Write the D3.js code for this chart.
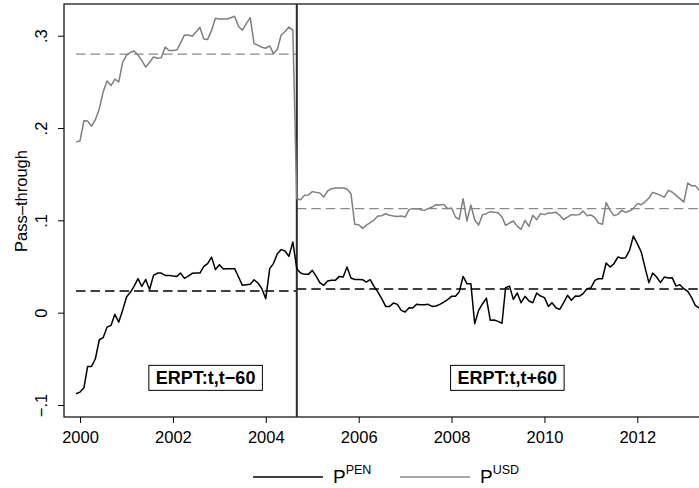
<!DOCTYPE html>
<html>
<head>
<meta charset="utf-8">
<script src="https://cdn.jsdelivr.net/npm/d3@7"></script>
<style>
  body { margin: 0; background: #fff; }
  svg { display: block; font-family: "Liberation Sans", Arial, Helvetica, sans-serif; }
</style>
</head>
<body>
<svg width="699" height="488"></svg>
<script>
var svg = d3.select('svg');

// monthly series, first month 1999m12, last 2013m5
var startMonth = new Date(1999, 11, 1);
var breakMonth = new Date(2004, 8, 1);

// P^PEN pass-through (57 months before the break, then 105 after)
var penSeries = [
  -0.0878, -0.086, -0.0813, -0.0582, -0.0582, -0.0499, -0.0293, -0.0271, -0.0156, -0.0138,
  -0.0018, -0.0102, 0.0025, 0.0169, 0.0223, 0.0285, 0.0368, 0.0285, 0.036, 0.0249,
  0.0404, 0.0429, 0.0429, 0.0404, 0.0404, 0.0397, 0.0393, 0.0429, 0.0372, 0.0397,
  0.0426, 0.0429, 0.0429, 0.0502, 0.0531, 0.0602, 0.0466, 0.052, 0.0473, 0.0477,
  0.0477, 0.0477, 0.0386, 0.0296, 0.0303, 0.0307, 0.0357, 0.0321, 0.026, 0.0152,
  0.0477, 0.0531, 0.0639, 0.0683, 0.0668, 0.061, 0.0765,
  // after the break
  0.0477, 0.043, 0.0415, 0.0415, 0.0458, 0.0393, 0.0325, 0.0296, 0.0342, 0.035,
  0.035, 0.0393, 0.0386, 0.0494, 0.0375, 0.036, 0.036, 0.0357, 0.0332, 0.0357,
  0.0285, 0.0223, 0.0152, 0.0068, 0.0068, 0.0104, 0.009, 0.0025, 0.0007, 0.0054,
  0.005, 0.009, 0.0086, 0.0086, 0.009, 0.0068, 0.0072, 0.009, 0.0115, 0.0141,
  0.0177, 0.0177, 0.0223, 0.0393, 0.0314, 0.0314, -0.012, 0.0025, 0.0097, 0.0158,
  -0.0083, -0.0079, -0.0094, -0.0115, 0.027, 0.0288, 0.0144, 0.0213, 0.0108, 0.0177,
  0.0126, 0.0108, 0.0213, 0.018, 0.0163, 0.0068, 0.0108, 0.0054, 0.0036, 0.0108,
  0.0188, 0.0134, 0.018, 0.0177, 0.0206, 0.026, 0.0267, 0.035, 0.0368, 0.0368,
  0.0538, 0.0494, 0.053, 0.0602, 0.059, 0.0595, 0.0675, 0.083, 0.0748, 0.0657,
  0.0494, 0.0325, 0.0429, 0.0386, 0.0325, 0.0386, 0.0375, 0.0379, 0.0288, 0.0303,
  0.026, 0.023, 0.0169, 0.0079, 0.005
];

// P^USD pass-through
var usdSeries = [
  0.185, 0.186, 0.208, 0.2075, 0.202, 0.209, 0.221, 0.239, 0.251, 0.246,
  0.253, 0.250, 0.271, 0.279, 0.282, 0.2835, 0.279, 0.273, 0.266, 0.271,
  0.277, 0.2755, 0.276, 0.2877, 0.284, 0.284, 0.2845, 0.292, 0.3007, 0.3007,
  0.2995, 0.304, 0.309, 0.2965, 0.296, 0.306, 0.319, 0.318, 0.318, 0.318,
  0.3195, 0.321, 0.310, 0.306, 0.313, 0.3195, 0.2914, 0.2897, 0.2875, 0.2864,
  0.289, 0.2806, 0.285, 0.3007, 0.3046, 0.3094, 0.306,
  // after the break
  0.1235, 0.1224, 0.1271, 0.1274, 0.1311, 0.1303, 0.1296, 0.1252, 0.1318, 0.1343,
  0.135, 0.135, 0.135, 0.1339, 0.1289, 0.0957, 0.0953, 0.0913, 0.0946, 0.0975,
  0.1003, 0.1047, 0.1051, 0.1072, 0.1054, 0.1047, 0.1043, 0.1047, 0.1036, 0.1116,
  0.1127, 0.1127, 0.1116, 0.1108, 0.1127, 0.1144, 0.117, 0.1166, 0.1173, 0.1127,
  0.1134, 0.1036, 0.1011, 0.1235, 0.0993, 0.1166, 0.1007, 0.095, 0.1062, 0.1072,
  0.1094, 0.1087, 0.1083, 0.1036, 0.0946, 0.0971, 0.0993, 0.0935, 0.0903, 0.100,
  0.0935, 0.1054, 0.1007, 0.1072, 0.1062, 0.1079, 0.1079, 0.1087, 0.1054, 0.1007,
  0.1036, 0.1062, 0.1058, 0.1062, 0.1101, 0.1051, 0.1058, 0.1029, 0.0971, 0.0957,
  0.1192, 0.1108, 0.1051, 0.1065, 0.1108, 0.1087, 0.1101, 0.1127, 0.1181, 0.117,
  0.1198, 0.1242, 0.1303, 0.1289, 0.1271, 0.1252, 0.1325, 0.1307, 0.1271, 0.1235,
  0.1198, 0.1404, 0.1376, 0.1376, 0.1325
];

// window averages: [before break, after break]
var penMeans = [0.0234, 0.0256];
var usdMeans = [0.280, 0.1127];

var xTickYears = [2000, 2002, 2004, 2006, 2008, 2010, 2012];
var yTicks = [-0.1, 0, 0.1, 0.2, 0.3];
var windowLabels = ['ERPT:t,t\u221260', 'ERPT:t,t+60'];
var windowLabelDates = [new Date(2002, 8, 15), new Date(2009, 2, 15)];
var legendNames = ['PEN', 'USD'];

var months = penSeries.map(function(d, i){ return d3.timeMonth.offset(startMonth, i); });
var endMonth = months[months.length - 1];

var plot = {left: 64, top: 4, bottom: 417, right: 760};

// x-scale: 2000 at 80px, 2012 at 637px
var xScale = d3.scaleTime()
   .domain([new Date(2000, 0, 1), new Date(2012, 0, 1)])
   .range([80, 637.3]);

var yScale = d3.scaleLinear()
   .domain([-0.1, 0.3])
   .range([405, 35.7]);

svg.append('rect')
   .attr('width', 699).attr('height', 488)
   .attr('fill', '#fff');

// plot region outline
svg.append('rect')
   .attr('x', plot.left).attr('y', plot.top)
   .attr('width', plot.right - plot.left).attr('height', plot.bottom - plot.top)
   .attr('fill', 'none')
   .attr('stroke', '#1a1a1a')
   .attr('stroke-width', 1.3);

// axes
var xAxis = svg.append('g')
   .attr('class', 'x axis')
   .attr('transform', 'translate(0,' + plot.bottom + ')')
   .call(d3.axisBottom(xScale)
      .tickValues(xTickYears.map(function(y){ return new Date(y, 0, 1); }))
      .tickFormat(d3.timeFormat('%Y'))
      .tickSize(6));
xAxis.select('.domain').remove();
xAxis.selectAll('text')
   .attr('y', 26).attr('dy', 0)
   .attr('fill', '#000')
   .style('font-size', '16.5px');

var yFormat = function(v){
   if (v === 0) return '0';
   return (v < 0 ? '\u2212' : '') + d3.format('.1f')(Math.abs(v)).replace(/^0/, '');
};
var yAxis = svg.append('g')
   .attr('class', 'y axis')
   .attr('transform', 'translate(' + plot.left + ',0)')
   .call(d3.axisLeft(yScale).tickValues(yTicks).tickFormat(yFormat).tickSize(6));
yAxis.select('.domain').remove();
yAxis.selectAll('text')
   .attr('transform', 'rotate(-90)')
   .attr('x', 0).attr('y', -17.5).attr('dy', 0)
   .attr('text-anchor', 'middle')
   .attr('fill', '#000')
   .style('font-size', '16.5px');
svg.selectAll('.tick line').attr('stroke', '#000');

// y axis title
svg.append('text')
   .attr('class', 'axisLabel')
   .attr('transform', 'translate(26.5,201)rotate(270)')
   .attr('text-anchor', 'middle')
   .style('font-size', '16.5px')
   .text('Pass\u2013through');

// window averages (dashed)
var windows = [[startMonth, breakMonth], [breakMonth, endMonth]];
function drawMeans(means, colour){
   svg.selectAll(null)
      .data(means)
      .enter()
      .append('line')
      .attr('x1', function(d, i){ return xScale(windows[i][0]); })
      .attr('x2', function(d, i){ return xScale(windows[i][1]); })
      .attr('y1', function(d){ return yScale(d); })
      .attr('y2', function(d){ return yScale(d); })
      .attr('stroke', colour)
      .attr('stroke-width', 1.4)
      .attr('stroke-dasharray', '9.5,5');
}
drawMeans(usdMeans, '#8a8a8a');
drawMeans(penMeans, '#000');

// break line
svg.append('line')
   .attr('x1', xScale(breakMonth)).attr('x2', xScale(breakMonth))
   .attr('y1', plot.top).attr('y2', plot.bottom)
   .attr('stroke', '#2a2a2a')
   .attr('stroke-width', 2);

var line = d3.line()
   .x(function(d, i){ return xScale(months[i]); })
   .y(function(d){ return yScale(d); });

svg.append('path')
   .datum(usdSeries)
   .attr('fill', 'none')
   .attr('stroke', '#7f7f7f')
   .attr('stroke-width', 1.5)
   .attr('stroke-linejoin', 'round')
   .attr('d', line);

svg.append('path')
   .datum(penSeries)
   .attr('fill', 'none')
   .attr('stroke', '#000')
   .attr('stroke-width', 1.5)
   .attr('stroke-linejoin', 'round')
   .attr('d', line);

// boxed window labels
windowLabels.forEach(function(lbl, i){
   var g = svg.append('g')
      .attr('transform', 'translate(' + xScale(windowLabelDates[i]) + ',' + yScale(-0.0706) + ')');
   var t = g.append('text')
      .attr('text-anchor', 'middle')
      .attr('dy', '0.36em')
      .style('font-size', '18px')
      .style('font-weight', 'bold')
      .text(lbl);
   var bb = t.node().getBBox();
   g.insert('rect', 'text')
      .attr('x', bb.x - 7).attr('y', -12.5)
      .attr('width', bb.width + 14).attr('height', 25)
      .attr('fill', '#fff')
      .attr('stroke', '#000')
      .attr('stroke-width', 1);
});

// legend
var legend = svg.append('g').attr('class', 'legend');
var legendX = [253, 400];
var legendColours = ['#000', '#8a8a8a'];
legendNames.forEach(function(name, i){
   legend.append('line')
      .attr('x1', legendX[i]).attr('x2', legendX[i] + 70)
      .attr('y1', 477).attr('y2', 477)
      .attr('stroke', legendColours[i])
      .attr('stroke-width', 1.5);
   var t = legend.append('text')
      .attr('x', legendX[i] + 80)
      .attr('y', 483)
      .style('font-size', '19px')
      .text('P');
   t.append('tspan')
      .attr('dy', -9)
      .style('font-size', '12.5px')
      .text(name);
});
</script>
</body>
</html>
